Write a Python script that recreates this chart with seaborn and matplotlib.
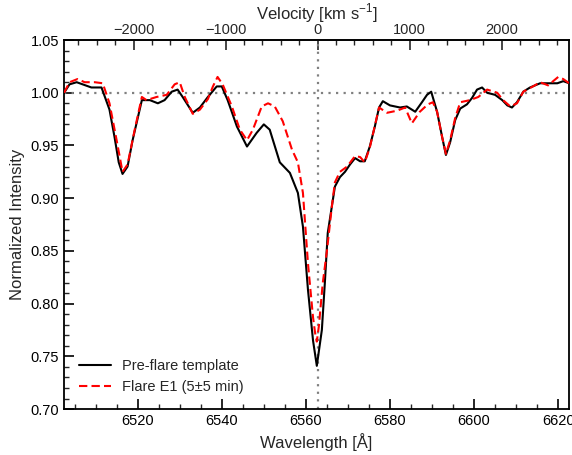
import numpy as np
import pandas as pd
import matplotlib
matplotlib.use("Agg")
import matplotlib.pyplot as plt
import seaborn as sns

# Pre-flare template spectrum
pre_wave = [6502.5, 6503.8, 6505.5, 6506.9, 6509.0, 6511.4, 6513.3, 6514.5, 6515.5, 6516.4,
            6517.6, 6518.8, 6521.0, 6522.9, 6524.8, 6526.4, 6528.1, 6529.5, 6530.7, 6533.1,
            6534.8, 6536.7, 6538.8, 6540.0, 6541.4, 6543.6, 6546.0, 6548.3, 6550.0, 6551.4,
            6553.8, 6556.2, 6558.1, 6559.3, 6560.5, 6561.7, 6562.6, 6563.8, 6564.5, 6565.2,
            6566.4, 6566.9, 6568.1, 6569.3, 6570.5, 6571.7, 6572.9, 6574.0, 6575.2, 6576.4,
            6577.4, 6578.3, 6580.0, 6582.4, 6584.0, 6586.0, 6587.6, 6588.8, 6589.8, 6591.2,
            6592.4, 6593.3, 6594.3, 6595.5, 6596.7, 6598.3, 6599.5, 6600.7, 6601.9, 6603.1,
            6605.0, 6606.7, 6607.9, 6609.0, 6610.2, 6611.7, 6613.3, 6615.7, 6617.6, 6619.8,
            6621.2, 6622.6]
pre_flux = [1.000, 1.008, 1.010, 1.008, 1.005, 1.005, 0.984, 0.958, 0.934, 0.923,
            0.930, 0.955, 0.993, 0.993, 0.990, 0.993, 1.001, 1.003, 0.996, 0.981,
            0.986, 0.996, 1.006, 1.006, 0.993, 0.968, 0.949, 0.962, 0.970, 0.965,
            0.934, 0.924, 0.905, 0.873, 0.813, 0.765, 0.741, 0.775, 0.819, 0.867,
            0.898, 0.911, 0.920, 0.925, 0.932, 0.938, 0.935, 0.935, 0.949, 0.968,
            0.986, 0.992, 0.988, 0.986, 0.987, 0.982, 0.991, 0.998, 1.001, 0.982,
            0.958, 0.941, 0.953, 0.974, 0.985, 0.989, 0.995, 1.003, 1.005, 1.000,
            0.998, 0.993, 0.988, 0.986, 0.991, 1.001, 1.005, 1.009, 1.009, 1.009,
            1.011, 1.009]

# Flare E1 spectrum
flare_wave = [6502.5, 6503.8, 6505.7, 6507.4, 6509.8, 6511.7, 6513.3, 6515.0, 6516.4, 6517.6,
              6519.3, 6521.0, 6522.1, 6524.5, 6526.9, 6528.8, 6530.0, 6531.2, 6533.1, 6534.8,
              6536.7, 6537.9, 6539.0, 6540.2, 6542.4, 6544.3, 6546.0, 6547.4, 6549.5, 6551.0,
              6552.6, 6554.5, 6556.7, 6558.1, 6559.3, 6560.5, 6561.7, 6562.2, 6562.6, 6563.1,
              6564.0, 6565.0, 6566.2, 6566.9, 6568.1, 6569.8, 6571.7, 6572.9, 6574.0, 6575.2,
              6577.4, 6579.3, 6581.7, 6583.6, 6585.2, 6587.1, 6589.0, 6590.2, 6591.2, 6592.4,
              6593.3, 6594.3, 6595.5, 6596.7, 6599.0, 6601.0, 6603.1, 6605.5, 6606.9, 6608.6,
              6610.2, 6611.7, 6614.0, 6615.7, 6617.6, 6620.0, 6621.2, 6622.6]
flare_flux = [1.000, 1.010, 1.013, 1.010, 1.010, 1.009, 0.990, 0.955, 0.925, 0.932,
              0.965, 0.996, 0.993, 0.996, 0.998, 1.008, 1.010, 0.996, 0.980, 0.984,
              0.994, 1.006, 1.015, 1.008, 0.987, 0.965, 0.955, 0.965, 0.987, 0.990,
              0.987, 0.973, 0.946, 0.934, 0.905, 0.838, 0.787, 0.772, 0.764, 0.779,
              0.819, 0.850, 0.893, 0.915, 0.925, 0.930, 0.940, 0.939, 0.934, 0.948,
              0.986, 0.981, 0.983, 0.986, 0.971, 0.982, 0.989, 0.991, 0.982, 0.958,
              0.942, 0.955, 0.976, 0.991, 0.993, 0.996, 1.003, 1.000, 0.993, 0.987,
              0.990, 1.001, 1.006, 1.010, 1.007, 1.015, 1.013, 1.009]

labels = ["Pre-flare template", "Flare E1 (5\u00b15 min)"]
vel_ticks = [-2000, -1000, 0, 1000, 2000]
LAM0 = 6562.8
C_KMS = 299792.458

sns.set_theme(style="ticks")
plt.rcParams['font.family'] = ['Liberation Sans', 'DejaVu Sans']
plt.rcParams['mathtext.fontset'] = 'custom'
plt.rcParams['mathtext.rm'] = 'Liberation Sans'

df_pre = pd.DataFrame({"wave": pre_wave, "flux": pre_flux})
df_fl = pd.DataFrame({"wave": flare_wave, "flux": flare_flux})

fig = plt.figure(figsize=(5.72, 4.55), dpi=100)
ax = fig.add_axes([0.112, 0.101, 0.883, 0.811])

ax.axhline(1.0, color="gray", ls=(0, (1, 2.4)), lw=1.6, zorder=1)
ax.axvline(LAM0, color="gray", ls=(0, (1, 2.4)), lw=1.6, zorder=1)

sns.lineplot(data=df_pre, x="wave", y="flux", ax=ax, color="black", lw=1.5,
             label=labels[0], sort=False, zorder=3)
sns.lineplot(data=df_fl, x="wave", y="flux", ax=ax, color="red", lw=1.5,
             ls=(0, (4, 2)), label=labels[1], sort=False, zorder=4)

ax.set_xlim(6502.5, 6622.6)
ax.set_ylim(0.70, 1.05)
ax.set_xlabel("Wavelength [\u00c5]", fontsize=12)
ax.set_ylabel("Normalized Intensity", fontsize=12)

ax.set_xticks([6520, 6540, 6560, 6580, 6600, 6620])
ax.set_xticks(np.arange(6505, 6625, 5), minor=True)
ax.set_yticks([0.70, 0.75, 0.80, 0.85, 0.90, 0.95, 1.00, 1.05])
ax.set_yticks(np.arange(0.70, 1.0501, 0.01), minor=True)
ax.yaxis.set_major_formatter(matplotlib.ticker.FormatStrFormatter('%.2f'))
ax.tick_params(axis='both', which='major', direction='in', length=7, width=1.2,
               labelsize=10.5, colors='black', top=False, right=False)
ax.tick_params(axis='both', which='minor', direction='in', length=3.5, width=1.0,
               top=False, right=False)
for s in ax.spines.values():
    s.set_color("black")
    s.set_linewidth(1.3)

def w2v(w):
    return (np.asarray(w) - LAM0) / LAM0 * C_KMS

def v2w(v):
    return LAM0 * (1 + np.asarray(v) / C_KMS)

sec = ax.secondary_xaxis('top', functions=(w2v, v2w))
sec.set_xticks(vel_ticks)
sec.set_xticks(np.arange(-2600, 2700, 200), minor=True)
sec.set_xticklabels(["\u22122000", "\u22121000", "0", "1000", "2000"])
sec.tick_params(which='major', direction='in', length=7, width=1.2, labelsize=10.5, pad=2)
sec.tick_params(which='minor', direction='in', length=3.5, width=1.0)
sec.set_xlabel("Velocity [km s$^{-1}$]", fontsize=12, labelpad=3)

leg = ax.legend(loc="lower left", frameon=False, fontsize=10.5, handlelength=2.2,
                borderaxespad=0.6, labelspacing=0.5)

fig.savefig("out.png", dpi=100)
